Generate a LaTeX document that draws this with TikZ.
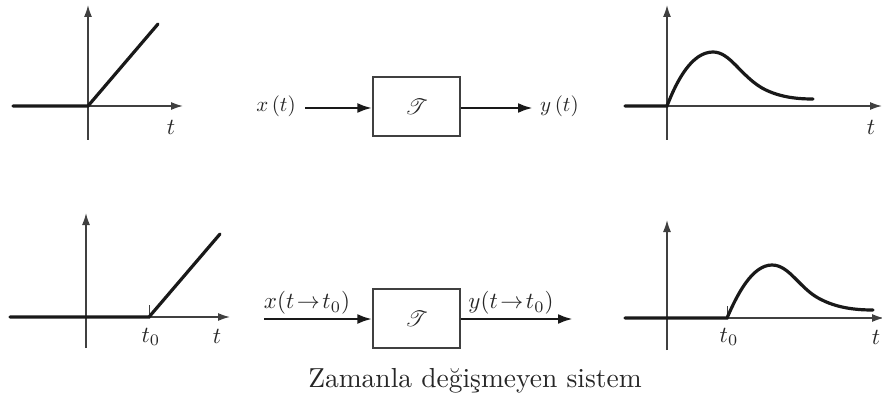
\documentclass[tikz,border=0pt]{standalone}
\usepackage{mathrsfs}
\usetikzlibrary{arrows.meta}
\newcommand{\scm}[2]{\scalebox{#1}{$#2$}}
\begin{document}
\begin{tikzpicture}[x=1pt,y=-1pt,
  axis/.style={line width=1.5pt,black!75,-{Latex[length=12pt,width=8pt]}},
  sig/.style={line width=3.2pt,black!90,line cap=round},
  flow/.style={line width=2.8pt,black!90,-{Latex[length=15pt,width=10pt]}},
  sysbox/.style={draw=black!75,line width=1.3pt,minimum width=87pt,minimum height=59pt,inner sep=0pt},
  lbl/.style={inner sep=0pt,text=black!85},
  tick/.style={line width=1pt,black!75}]
\useasboundingbox (0,0) rectangle (882,403);
% ---- top-left plot
\coordinate (o1) at (88,106);
\draw[axis] (88,140) -- (88,5);
\draw[axis] (13,106) -- (183,106);
\draw[sig] (13,106) -- (o1) -- (158,24);
\node[lbl] (t1) at (171,127) {\scm{2.3}{t}};
% ---- top block
\node[sysbox] (box1) at (416.5,106.5) {};
\node[lbl] (T1) at (box1.center) {\scm{2.2}{\mathscr{T}}};
\node[lbl] (x1) at (276,106) {\scm{2.1}{x\,(t)}};
\coordinate (in1) at (305,108);
\coordinate (out1) at (533,108);
\draw[flow] (in1) -- (box1.west |- in1);
\draw[flow] (box1.east |- out1) -- (out1);
\node[lbl,anchor=west] (y1) at (540,106) {\scm{2.1}{y\,(t)}};
% ---- top-right plot
\coordinate (o2) at (667,106);
\draw[axis] (667,140) -- (667,5);
\draw[axis] (625,106) -- (882,106);
\draw[sig] (625,106) -- (o2) .. controls (677,80) and (692,52) .. (713,52)
  .. controls (730,52) and (740,75) .. (762,88) .. controls (780,98) and (800,99) .. (813,99);
\node[lbl] (t2) at (871,127) {\scm{2.3}{t}};
% ---- bottom-left plot
\coordinate (o3) at (86,317);
\coordinate (s3) at (149,317);
\draw[axis] (86,348) -- (86,213);
\draw[axis] (10,317) -- (230,317);
\draw[tick] (149,317) -- (149,305);
\draw[sig] (10,317) -- (s3) -- (220,234);
\node[lbl] (t03) at (151,337) {\scm{2.3}{t_0}};
\node[lbl] (t3) at (217,336) {\scm{2.3}{t}};
% ---- bottom block
\node[sysbox] (box2) at (416.5,318.5) {};
\node[lbl] (T2) at (box2.center) {\scm{2.2}{\mathscr{T}}};
\coordinate (in2) at (264,319);
\coordinate (out2) at (573,319);
\draw[flow] (in2) -- (box2.west |- in2);
\draw[flow] (box2.east |- out2) -- (out2);
\node[lbl] (x2) at (307,303) {\scm{2.3}{x(t\!\to\! t_0)}};
\node[lbl] (y2) at (511,303) {\scm{2.3}{y(t\!\to\! t_0)}};
% ---- bottom-right plot
\coordinate (o4) at (667,318);
\coordinate (s4) at (727,318);
\draw[axis] (667,350) -- (667,220);
\draw[axis] (625,318) -- (884,318);
\draw[tick] (727,318) -- (727,306);
\draw[sig] (625,318) -- (s4) .. controls (737,295) and (752,265) .. (772,265)
  .. controls (790,265) and (800,290) .. (822,300) .. controls (840,309) and (860,310) .. (873,310);
\node[lbl] (t04) at (729,337) {\scm{2.3}{t_0}};
\node[lbl] (t4) at (876,337) {\scm{2.3}{t}};
% ---- caption
\node[inner sep=0pt,text=black!85] (cap) at (475,381) {\scalebox{2.75}{Zamanla değişmeyen sistem}};
\end{tikzpicture}
\end{document}
